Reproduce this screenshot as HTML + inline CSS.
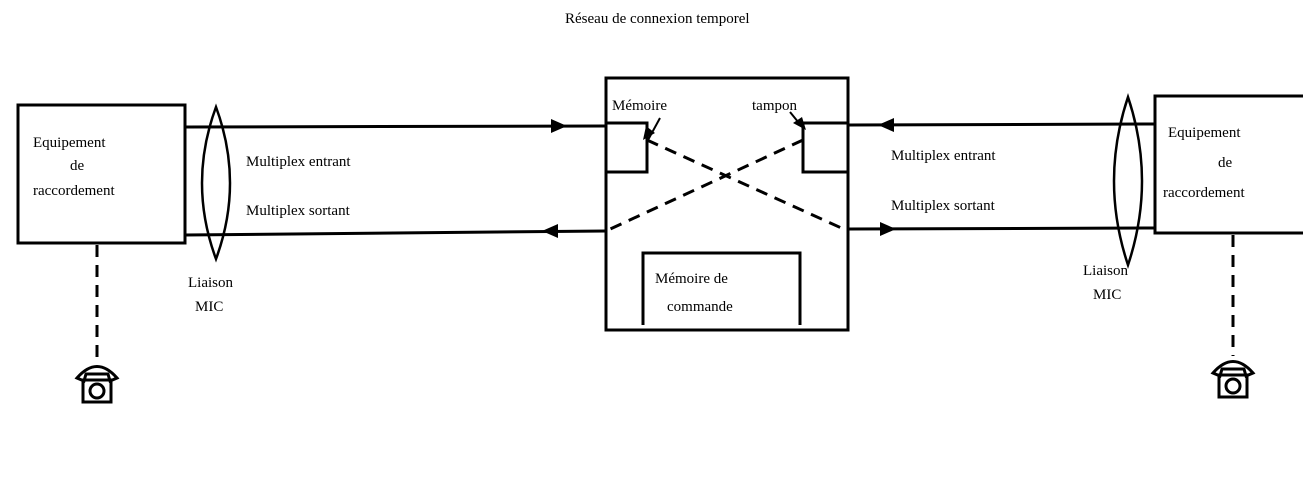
<!DOCTYPE html>
<html><head><meta charset="utf-8"><style>
body{margin:0;background:#fff;}
svg text{font-family:"Liberation Serif",serif;font-size:15px;fill:#000;}
</style></head><body>
<svg width="1303" height="478" viewBox="0 0 1303 478" xmlns="http://www.w3.org/2000/svg">
<g fill="none" stroke="#000" stroke-width="3">
<rect x="18" y="105" width="167" height="138"/>
<rect x="1155" y="96" width="150" height="137"/>
<rect x="606" y="78" width="242" height="252"/>
<polyline points="606,123 647,123 647,172 606,172"/>
<polyline points="848,123 803,123 803,172 848,172"/>
<polyline points="643,325 643,253 800,253 800,325"/>
<line x1="185" y1="127" x2="606" y2="126"/>
<line x1="185" y1="235" x2="606" y2="231"/>
<line x1="848" y1="125" x2="1155" y2="124"/>
<line x1="848" y1="229" x2="1155" y2="228"/>
<path d="M216 107 Q244 183 216 259 Q188 183 216 107 Z" stroke-width="2.5"/>
<path d="M1128 97 Q1156 181 1128 265 Q1100 181 1128 97 Z" stroke-width="2.5"/>
<g stroke-dasharray="12,8">
<line x1="647" y1="140" x2="848" y2="231"/>
<line x1="803" y1="140" x2="606" y2="231"/>
<line x1="97" y1="245" x2="97" y2="362"/>
<line x1="1233" y1="235" x2="1233" y2="356"/>
</g>
<path d="M660 118 L648 140" stroke-width="2"/>
<path d="M790 112 L803 128" stroke-width="2"/>
</g>
<g fill="#000">
<polygon points="567,126 551,119 551,133"/>
<polygon points="542,231 558,224 558,238"/>
<polygon points="878,125 894,118 894,132"/>
<polygon points="896,229 880,222 880,236"/>
<polygon points="643,140 646,126 655,133"/>
<polygon points="806,130 793,123 802,117"/>
</g>
<g fill="none" stroke="#000" stroke-width="3">
<path d="M77 378 Q97 355 117 378 L110 381 L108 374 L86 374 L84 381 Z"/>
<rect x="83" y="380" width="28" height="22"/>
<circle cx="97" cy="391" r="7"/>
<path d="M1213 373 Q1233 350 1253 373 L1246 376 L1244 369 L1222 369 L1220 376 Z"/>
<rect x="1219" y="375" width="28" height="22"/>
<circle cx="1233" cy="386" r="7"/>
</g>
<text x="565" y="23">Réseau de connexion temporel</text>
<text x="612" y="110">Mémoire</text>
<text x="752" y="110">tampon</text>
<text x="655" y="283">Mémoire de</text>
<text x="667" y="311">commande</text>
<text x="33" y="147">Equipement</text>
<text x="70" y="170">de</text>
<text x="33" y="195">raccordement</text>
<text x="246" y="166">Multiplex entrant</text>
<text x="246" y="215">Multiplex sortant</text>
<text x="188" y="287">Liaison</text>
<text x="195" y="311">MIC</text>
<text x="891" y="160">Multiplex entrant</text>
<text x="891" y="210">Multiplex sortant</text>
<text x="1083" y="275">Liaison</text>
<text x="1093" y="299">MIC</text>
<text x="1168" y="137">Equipement</text>
<text x="1218" y="167">de</text>
<text x="1163" y="197">raccordement</text>
</svg>
</body></html>
